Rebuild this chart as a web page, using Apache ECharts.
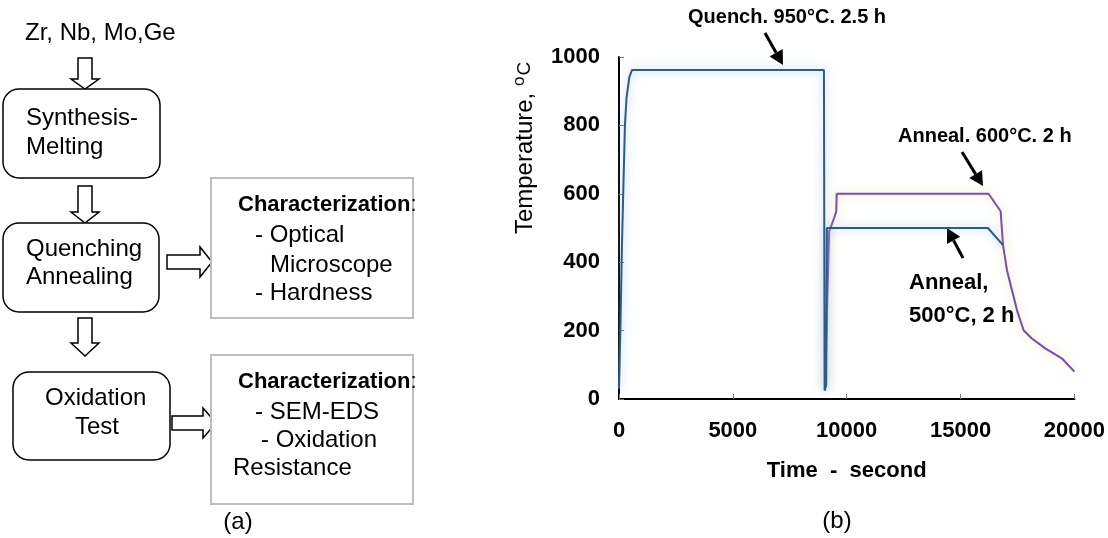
<!DOCTYPE html>
<html>
<head>
<meta charset="utf-8">
<script src="https://cdn.jsdelivr.net/npm/echarts@6/dist/echarts.min.js"></script>
<style>
  html, body { margin: 0; padding: 0; background: #fff; }
  #chart { width: 1108px; height: 538px; }
</style>
</head>
<body>
<div id="chart"></div>
<script>
// quench 950C then 500C anneal (dark blue)
const blueTime = [0, 60, 130, 200, 260, 330, 450, 570, 9000, 9030, 9100, 9130, 16200, 16865];
const blueTemp = [30, 200, 450, 640, 800, 880, 940, 962, 962, 25, 40, 500, 500, 450];
// 600C anneal (purple)
const purpleTime = [9050, 9150, 9230, 9450, 9540, 9560, 16230, 16760, 16865, 17040, 17258, 17477, 17769, 18134, 18716, 19445, 20000];
const purpleTemp = [25, 300, 490, 530, 548, 600, 600, 549, 450, 376, 318, 260, 201, 177, 148, 119, 80];

const FONT = "'Liberation Sans', Arial, sans-serif";

function zip(xs, ys) {
  return xs.map((x, i) => [x, ys[i]]);
}

function txt(x, y, text, size, bold, align) {
  return {
    type: 'text', x: x, y: y,
    style: {
      text: text, fill: '#000',
      fontSize: size, fontFamily: FONT, fontWeight: bold ? 'bold' : 'normal',
      align: align || 'left', verticalAlign: 'middle',
      textAlign: align || 'left', textVerticalAlign: 'middle'
    }
  };
}

// hollow block arrow pointing down
function downArrow(cx, top, base, tip) {
  return {
    type: 'polygon',
    shape: { points: [[cx - 7, top], [cx + 7, top], [cx + 7, base], [cx + 14, base], [cx, tip], [cx - 14, base], [cx - 7, base]] },
    style: { fill: '#fff', stroke: '#000', lineWidth: 1.5 }
  };
}

// hollow block arrow pointing right
function rightArrow(left, cy, base, tip) {
  return {
    type: 'polygon',
    shape: { points: [[left, cy - 7], [base, cy - 7], [base, cy - 15], [tip, cy], [base, cy + 15], [base, cy + 7], [left, cy + 7]] },
    style: { fill: '#fff', stroke: '#000', lineWidth: 1.5 }
  };
}

// black pointer arrow for annotations
function pointer(x1, y1, x2, y2) {
  const dx = x2 - x1, dy = y2 - y1;
  const len = Math.sqrt(dx * dx + dy * dy);
  const ux = dx / len, uy = dy / len;
  const bx = x2 - ux * 14, by = y2 - uy * 14;
  return [
    { type: 'line', shape: { x1: x1, y1: y1, x2: bx, y2: by }, style: { stroke: '#000', lineWidth: 3 } },
    {
      type: 'polygon',
      shape: { points: [[x2, y2], [bx - uy * 7.5, by + ux * 7.5], [bx + uy * 7.5, by - ux * 7.5]] },
      style: { fill: '#000' }
    }
  ];
}

function box(x, y, w, h, r, stroke, lw) {
  return {
    type: 'rect',
    shape: { x: x, y: y, width: w, height: h, r: r },
    style: { fill: '#fff', stroke: stroke, lineWidth: lw }
  };
}

function charTitle(x, y) {
  return {
    type: 'text', x: x, y: y,
    style: {
      text: '{b|Characterization}{n|:}', fill: '#000',
      verticalAlign: 'middle', textVerticalAlign: 'middle',
      rich: {
        b: { fontSize: 22, fontWeight: 'bold', fontFamily: FONT, fill: '#000' },
        n: { fontSize: 22, fontFamily: FONT, fill: '#000' }
      }
    }
  };
}

const graphics = [
  txt(25, 33, 'Zr, Nb, Mo,Ge', 24),
  downArrow(85, 58, 79, 89),
  box(3, 89, 157, 89, 16, '#000', 1.5),
  txt(26, 118, 'Synthesis-', 24),
  txt(26, 147, 'Melting', 24),
  downArrow(85, 186, 212, 223),
  box(3, 223, 156, 89, 16, '#000', 1.5),
  txt(26, 249, 'Quenching', 24),
  txt(26, 277, 'Annealing', 24),
  rightArrow(167, 262, 200, 212),
  box(211, 178, 202, 140, 0, '#bdbdbd', 2),
  charTitle(238, 205),
  txt(255, 235, '- Optical', 24),
  txt(270, 265, 'Microscope', 24),
  txt(255, 293, '- Hardness', 24),
  downArrow(85, 318, 343, 356),
  box(13, 372, 157, 88, 16, '#000', 1.5),
  txt(45, 398, 'Oxidation', 24),
  txt(75, 427, 'Test', 24),
  rightArrow(172, 423, 203, 216),
  box(211, 355, 202, 149, 0, '#bdbdbd', 2),
  charTitle(238, 382),
  txt(255, 412, '- SEM-EDS', 24),
  txt(261, 440, '- Oxidation', 24),
  txt(233, 468, 'Resistance', 24),
  txt(238, 522, '(a)', 24, false, 'center'),
  txt(837, 521, '(b)', 24, false, 'center'),

  // y axis title with superscript o
  {
    type: 'text', x: 525, y: 148, rotation: Math.PI / 2,
    style: {
      text: '{a|Temperature, }{s|o}{c|C}', fill: '#000',
      align: 'center', verticalAlign: 'middle',
      textAlign: 'center', textVerticalAlign: 'middle',
      rich: {
        a: { fontSize: 24, fontFamily: FONT, fill: '#000' },
        s: { fontSize: 17, fontFamily: FONT, fill: '#000', padding: [0, 1, 12, 0] },
        c: { fontSize: 19, fontFamily: FONT, fill: '#000' }
      }
    }
  },

  txt(688, 17, 'Quench. 950°C. 2.5 h', 20, true),
  ...pointer(765, 33, 783, 65),
  txt(898, 136, 'Anneal. 600°C. 2 h', 20, true),
  ...pointer(962, 152, 983, 186),
  txt(909, 283, 'Anneal,', 22, true),
  txt(909, 316, '500°C, 2 h', 22, true),
  ...pointer(963, 258, 947, 228)
];

const chart = echarts.init(document.getElementById('chart'), null, { renderer: 'canvas' });
chart.setOption({
  backgroundColor: '#fff',
  animation: false,
  grid: { left: 619, right: 32, top: 57, bottom: 139 },
  xAxis: {
    type: 'value', min: 0, max: 20000, interval: 5000,
    name: 'Time  -  second', nameLocation: 'middle', nameGap: 61,
    nameTextStyle: { fontSize: 22, fontWeight: 'bold', fontFamily: FONT, color: '#000' },
    axisLine: { lineStyle: { color: '#000', width: 2 } },
    axisTick: { inside: true, length: 5, lineStyle: { color: '#777', width: 1 } },
    axisLabel: { fontSize: 22, fontWeight: 'bold', fontFamily: FONT, color: '#000', margin: 21, formatter: v => String(v) },
    splitLine: { show: false }
  },
  yAxis: {
    type: 'value', min: 0, max: 1000, interval: 200,
    axisLine: { show: true, lineStyle: { color: '#000', width: 2 } },
    axisTick: { show: true, inside: true, length: 5, lineStyle: { color: '#777', width: 1 } },
    axisLabel: { fontSize: 22, fontWeight: 'bold', fontFamily: FONT, color: '#000', margin: 19, formatter: v => String(v) },
    splitLine: { show: false }
  },
  series: [
    {
      type: 'line', name: 'Quench / Anneal 500',
      data: zip(blueTime, blueTemp),
      showSymbol: false,
      lineStyle: { color: '#2d5b8a', width: 2, shadowColor: 'rgba(140,185,230,0.9)', shadowBlur: 10 },
      z: 3
    },
    {
      type: 'line', name: 'Anneal 600',
      data: zip(purpleTime, purpleTemp),
      showSymbol: false,
      lineStyle: { color: '#7a4cb0', width: 2, shadowColor: 'rgba(240,215,130,0.9)', shadowBlur: 10 },
      z: 2
    }
  ],
  graphic: graphics
});
</script>
</body>
</html>
